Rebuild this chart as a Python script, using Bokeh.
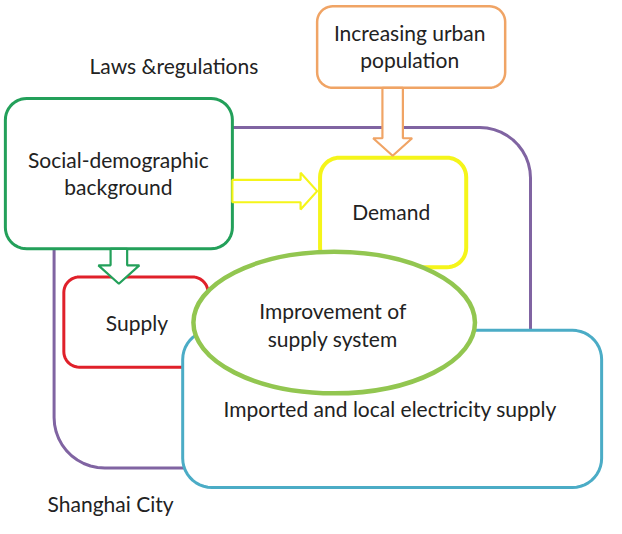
import numpy as np
from bokeh.plotting import figure
from bokeh.models import Range1d, ColumnDataSource
from bokeh.core.properties import value
from bokeh.embed import file_html
from bokeh.resources import INLINE

# ---- data (image-pixel coordinates, y downward) ----
box_names = ["Shanghai City", "Social-demographic", "Increasing urban", "Demand", "Supply", "Imported"]
box_left = [55, 5, 325, 328, 65, 187]
box_right = [544, 238, 518, 478, 213, 617]
box_top = [131, 101, 6, 162, 285, 340]
box_bottom = [482, 256, 90, 275, 378, 502]
box_radius = [52, 22, 16, 20, 16, 30]
box_color = ["#8064a2", "#23a05a", "#f0a465", "#f5f51a", "#e0202a", "#4bacc6"]
box_width = [3, 3, 2.5, 4, 3, 3]

# arrows: tail point, tip point, shaft half-width, head half-width, head length
arrow_tail_x = [402.5, 238, 121.5]
arrow_tail_y = [90, 196.5, 256]
arrow_tip_x = [402.5, 325, 121.5]
arrow_tip_y = [160, 196.5, 292]
arrow_shaft = [10.5, 11.5, 8.5]
arrow_head = [20, 19, 21]
arrow_head_len = [18, 17, 19]
arrow_color = ["#f0a465", "#f5f51a", "#23a05a"]

ell_x = [342.5]
ell_y = [332]
ell_w = [289]
ell_h = [146]
ell_color = ["#92c650"]

label_text = ["Laws &regulations", "Increasing urban", "population", "Social-demographic",
              "background", "Demand", "Supply", "Improvement of", "supply system",
              "Imported and local electricity supply", "Shanghai City"]
label_x = [178, 420, 420, 121, 121, 401, 140, 341, 341, 400, 113]
label_y = [67, 33, 61, 164, 192, 218, 332, 320, 348, 421, 519]


def rounded_rect(l, r, t, b, rad, n=12):
    xs, ys = [], []
    corners = [(r - rad, t + rad, -90, 0), (r - rad, b - rad, 0, 90),
               (l + rad, b - rad, 90, 180), (l + rad, t + rad, 180, 270)]
    for cx, cy, a0, a1 in corners:
        a = np.radians(np.linspace(a0, a1, n))
        xs.extend(cx + rad * np.cos(a))
        ys.extend(cy + rad * np.sin(a))
    return xs, ys


def arrow_poly(tx, ty, hx, hy, sw, hw, hl):
    d = np.array([hx - tx, hy - ty], dtype=float)
    L = np.hypot(*d)
    u = d / L
    n = np.array([-u[1], u[0]])
    base = np.array([tx, ty])
    hb = base + u * (L - hl)
    tip = np.array([hx, hy])
    pts = [base + n * sw, hb + n * sw, hb + n * hw, tip,
           hb - n * hw, hb - n * sw, base - n * sw]
    return [p[0] for p in pts], [p[1] for p in pts]


p = figure(width=606, height=518, x_range=Range1d(0, 622), y_range=Range1d(534, 0),
           output_backend="svg", toolbar_location=None, min_border=0,
           background_fill_color="white", border_fill_color="white")
p.axis.visible = False
p.grid.visible = False
p.outline_line_color = None

for i in range(len(box_names)):
    xs, ys = rounded_rect(box_left[i], box_right[i], box_top[i], box_bottom[i], box_radius[i])
    fill = None if i == 0 else "white"
    p.patch(xs, ys, fill_color=fill, fill_alpha=1.0 if fill else 0,
            line_color=box_color[i], line_width=box_width[i])

for i in range(len(arrow_tail_x)):
    xs, ys = arrow_poly(arrow_tail_x[i], arrow_tail_y[i], arrow_tip_x[i], arrow_tip_y[i],
                        arrow_shaft[i], arrow_head[i], arrow_head_len[i])
    p.patch(xs, ys, fill_color="white", line_color=arrow_color[i], line_width=2.2)

p.ellipse(x=ell_x, y=ell_y, width=ell_w, height=ell_h, fill_color="white",
          line_color=ell_color[0], line_width=4.5)

src = ColumnDataSource(dict(x=label_x, y=label_y, t=label_text))
p.text(x="x", y="y", text="t", source=src, text_align="center", text_baseline="middle",
       text_font=value("Lato"), text_font_size="21px", text_color="#222222")

open("out.html", "w").write(file_html(p, INLINE))
